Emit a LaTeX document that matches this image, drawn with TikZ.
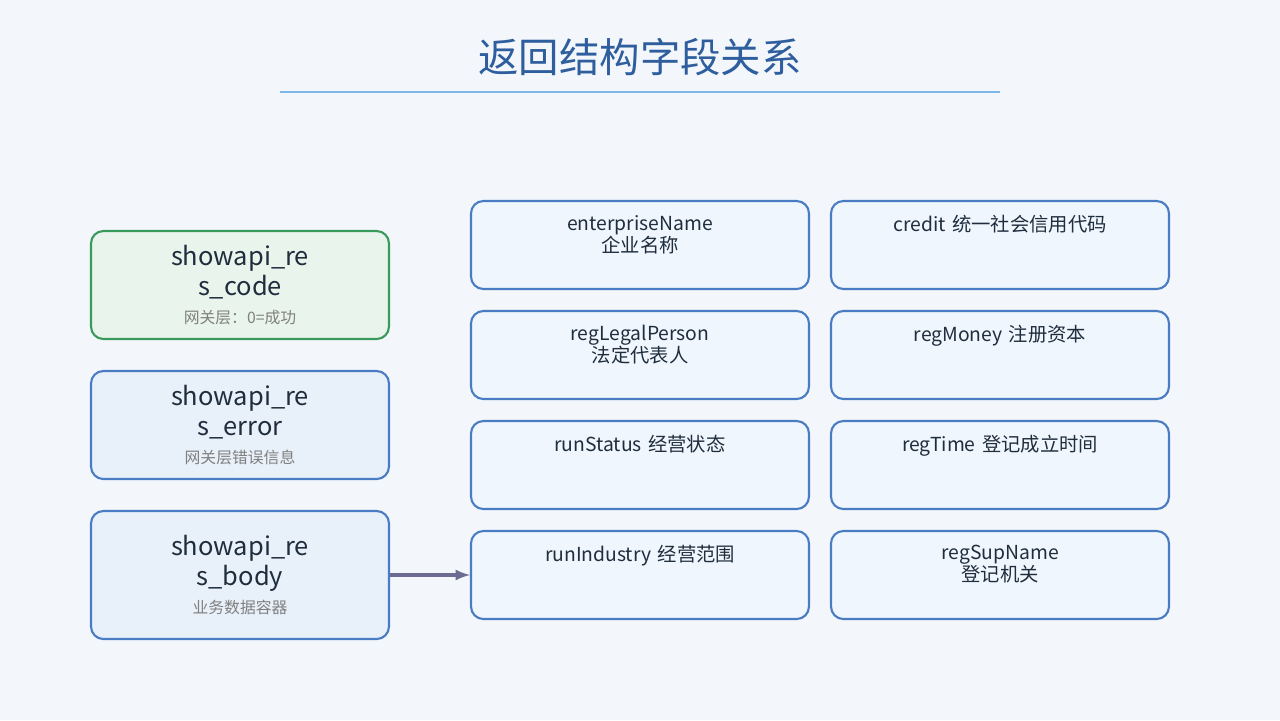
\documentclass[tikz,border=0pt]{standalone}
\usepackage{fontspec}
\setmainfont{Noto Sans CJK SC}
\usetikzlibrary{positioning}
\definecolor{bgpage}{HTML}{F3F7FB}
\definecolor{titleblue}{HTML}{2F5E9E}
\definecolor{ruleblue}{HTML}{7DB8E8}
\definecolor{boxblue}{HTML}{4A7CC4}
\definecolor{fillblue}{HTML}{E8F0FA}
\definecolor{fillcell}{HTML}{F0F6FD}
\definecolor{boxgreen}{HTML}{3A9A5B}
\definecolor{fillgreen}{HTML}{E9F4EC}
\definecolor{textdark}{HTML}{1F2D3D}
\newcommand{\fieldnote}[1]{{\color{gray}\fontsize{9}{11}\selectfont #1}}

\begin{document}
\begin{tikzpicture}[
    x=0.02cm, y=-0.02cm,
    field/.style={rectangle, rounded corners=7pt, draw=boxblue, line width=1.2pt, fill=fillblue,
        minimum width=5.96cm, minimum height=2.16cm, text width=5.6cm, align=center,
        text=textdark, font=\fontsize{14.5}{17}\selectfont},
    cell/.style={rectangle, rounded corners=7pt, draw=boxblue, line width=1.2pt, fill=fillcell,
        minimum width=6.76cm, minimum height=1.76cm},
    celltext/.style={below=0.18cm, text width=4.0cm, align=center, text=textdark,
        font=\fontsize{11}{12.5}\selectfont},
    arrow/.style={-latex, line width=1.8pt, draw=gray!85!blue}
]
    \fill[bgpage] (0,0) rectangle (1280,720);

    % Title
    \node[text=titleblue, font=\fontsize{23}{28}\selectfont] (title) at (640,57) {返回结构字段关系};
    \draw[ruleblue, line width=1.5pt] (280,92) -- (1000,92);

    % Gateway fields
    \node[field, draw=boxgreen, fill=fillgreen] (code) at (240,285)
        {showapi\_re\\s\_code\\[-1pt]\fieldnote{网关层：0=成功}};
    \node[field] (error) at (240,425)
        {showapi\_re\\s\_error\\[-1pt]\fieldnote{网关层错误信息}};
    \node[field, minimum height=2.56cm] (body) at (240,575)
        {showapi\_re\\s\_body\\[-1pt]\fieldnote{业务数据容器}};

    % Business fields
    \node[cell] (name) at (640,245) {};
    \node[celltext] at (name.north) {enterpriseName 企业名称};
    \node[cell] (credit) at (1000,245) {};
    \node[celltext, text width=5cm] at (credit.north) {credit 统一社会信用代码};
    \node[cell] (person) at (640,355) {};
    \node[celltext] at (person.north) {regLegalPerson 法定代表人};
    \node[cell] (money) at (1000,355) {};
    \node[celltext] at (money.north) {regMoney 注册资本};
    \node[cell] (status) at (640,465) {};
    \node[celltext] at (status.north) {runStatus 经营状态};
    \node[cell] (time) at (1000,465) {};
    \node[celltext, text width=5cm] at (time.north) {regTime 登记成立时间};
    \node[cell] (industry) at (640,575) {};
    \node[celltext, text width=5cm] at (industry.north) {runIndustry 经营范围};
    \node[cell] (supname) at (1000,575) {};
    \node[celltext] at (supname.north) {regSupName 登记机关};

    \draw[arrow] (body) -- (industry);
\end{tikzpicture}
\end{document}
